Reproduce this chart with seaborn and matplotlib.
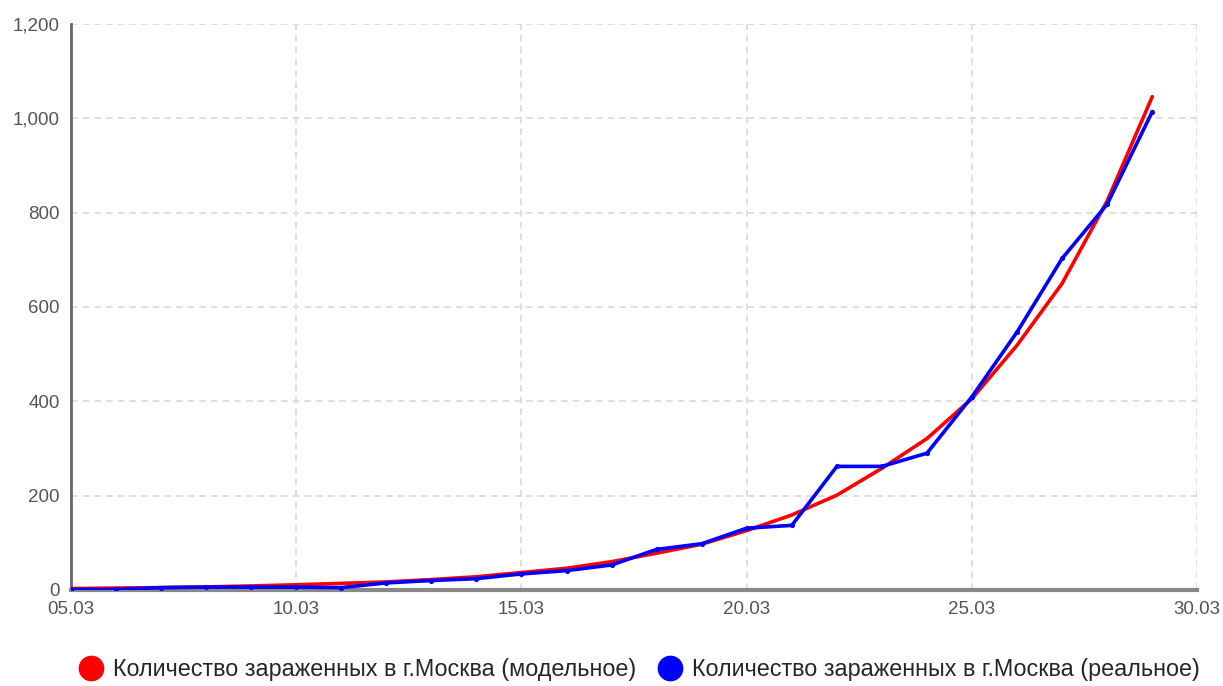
import matplotlib

matplotlib.use("Agg")
import matplotlib.pyplot as plt
from matplotlib.lines import Line2D
from matplotlib.ticker import FuncFormatter, MultipleLocator
import pandas as pd
import seaborn as sns

# day of March
days = list(range(5, 30))

model_cases = [3, 4, 5, 6.5, 8.5, 11, 14, 17, 22, 28, 37, 46, 60, 78, 97,
               126, 159, 201, 258, 321, 406, 519, 650, 825, 1046]
real_cases = [1, 1, 5, 6, 6, 6, 5, 15, 20, 24, 34, 41, 53, 86, 98,
              131, 137, 262, 262, 290, 410, 547, 703, 818, 1014]

label_model = "Количество зараженных в г.Москва (модельное)"
label_real = "Количество зараженных в г.Москва (реальное)"

df = pd.DataFrame({
    "day": days * 2,
    "cases": model_cases + real_cases,
    "series": [label_model] * len(days) + [label_real] * len(days),
})

sns.set_style("white")
plt.rcParams["font.family"] = ["Liberation Sans", "DejaVu Sans"]

fig = plt.figure(figsize=(12.23, 6.86), dpi=100)
ax = fig.add_axes([0.058, 0.14, 0.921, 0.825])

palette = {label_model: "#ff0000", label_real: "#0000ff"}
sns.lineplot(data=df, x="day", y="cases", hue="series", palette=palette,
             linewidth=2.6, ax=ax, legend=False, zorder=3)
# small point markers on the real series
sns.scatterplot(data=df[df["series"] == label_real], x="day", y="cases",
                color="#0000ff", s=14, linewidth=0, ax=ax, zorder=4)

ax.set_xlim(5, 30)
ax.set_ylim(0, 1200)
ax.xaxis.set_major_locator(MultipleLocator(5))
ax.yaxis.set_major_locator(MultipleLocator(200))
ax.xaxis.set_major_formatter(FuncFormatter(lambda v, _: f"{int(v):02d}.03"))
ax.yaxis.set_major_formatter(FuncFormatter(lambda v, _: f"{int(v):,}"))
ax.set_xlabel("")
ax.set_ylabel("")

ax.grid(True, color="#d9d9d9", linestyle=(0, (4, 3)), linewidth=1.2)
ax.set_axisbelow(True)
for side in ("top", "right"):
    ax.spines[side].set_visible(False)
ax.spines["left"].set_color("#666666")
ax.spines["left"].set_linewidth(2)
ax.spines["bottom"].set_color("#888888")
ax.spines["bottom"].set_linewidth(3)
ax.tick_params(axis="both", colors="#d0d0d0", labelcolor="#555555",
               labelsize=13.5, length=5, width=1)
ax.tick_params(axis="x", pad=3)
ax.tick_params(axis="y", pad=3)

handles = [
    Line2D([], [], marker="o", linestyle="", markersize=17.5,
           markerfacecolor="#ff0000", markeredgecolor="#ff0000"),
    Line2D([], [], marker="o", linestyle="", markersize=17.5,
           markerfacecolor="#0000ff", markeredgecolor="#0000ff"),
]
fig.legend(handles, [label_model, label_real], loc="center",
           bbox_to_anchor=(0.522, 0.024), ncol=2, frameon=False,
           fontsize=16.8, handletextpad=0.35, columnspacing=0.85,
           handlelength=1.2)

fig.savefig("out.png", dpi=100)
